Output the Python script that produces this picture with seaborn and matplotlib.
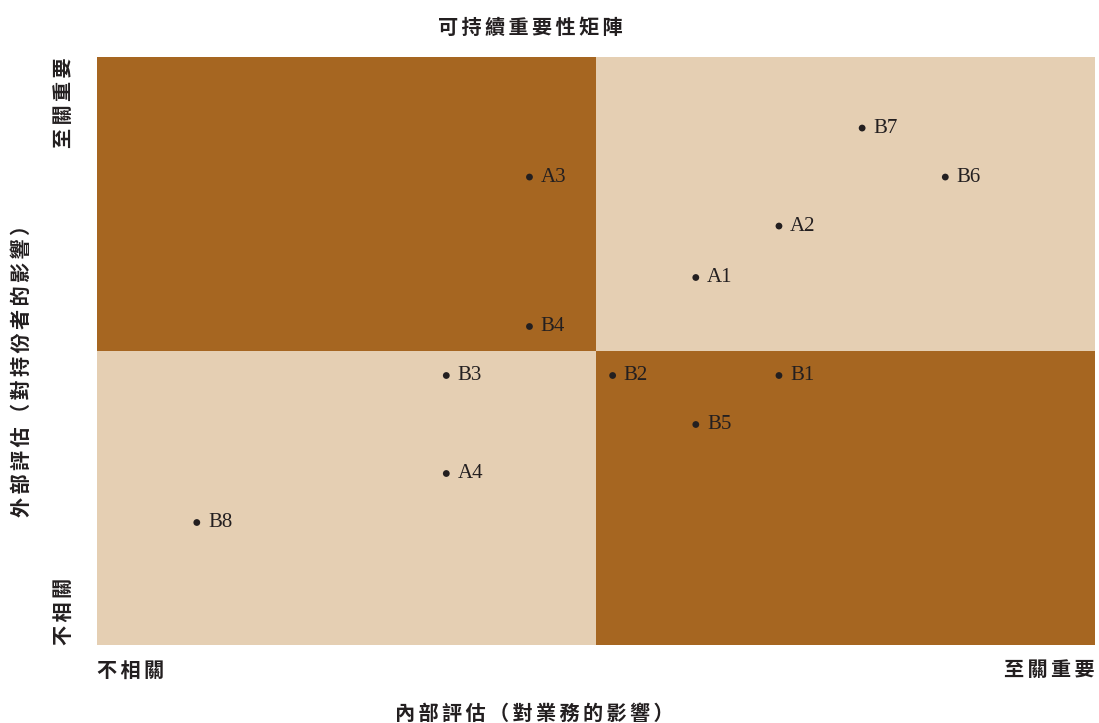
import matplotlib
matplotlib.use("Agg")
import matplotlib.pyplot as plt
from matplotlib.patches import Rectangle
import seaborn as sns
import pandas as pd

# point labels and positions (0-12 scale on both axes)
labels = ["B7", "A3", "B6", "A2", "A1", "B4", "B3", "B2", "B1", "B5", "A4", "B8"]
internal = [9.2, 5.2, 10.2, 8.2, 7.2, 5.2, 4.2, 6.2, 8.2, 7.2, 4.2, 1.2]
external = [10.55, 9.55, 9.55, 8.55, 7.5, 6.5, 5.5, 5.5, 5.5, 4.5, 3.5, 2.5]

title = "可持續重要性矩陣"
x_title = "內部評估（對業務的影響）"
y_title = "外部評估（對持份者的影響）"
low_label = "不相關"
high_label = "至關重要"

axis_max = 12
mid = 6

dark = "#A66621"
light = "#E5CFB3"
ink = "#231F20"


def spaced(s):
    # the reference sets its headings with wide letter spacing
    return "\u2006".join(s)


sns.set_theme(style="white")
plt.rcParams["font.family"] = ["Liberation Serif", "Noto Sans CJK TC", "DejaVu Sans"]

df = pd.DataFrame({"label": labels, "x": internal, "y": external})

fig = plt.figure(figsize=(10.99, 7.23), dpi=100)
ax = fig.add_axes([97 / 1099, 78 / 723, 998 / 1099, 588 / 723])

# quadrants
quads = [(0, 0, light), (mid, mid, light), (0, mid, dark), (mid, 0, dark)]
for qx, qy, c in quads:
    ax.add_patch(Rectangle((qx, qy), mid, mid, facecolor=c, edgecolor="none", zorder=0))

sns.scatterplot(data=df, x="x", y="y", color=ink, s=24, edgecolor="none", ax=ax, zorder=3)
for _, r in df.iterrows():
    ax.annotate(r["label"], (r["x"], r["y"]), xytext=(8, 0), textcoords="offset points",
                va="center", ha="left", fontsize=15, color=ink)

ax.set_xlim(0, axis_max)
ax.set_ylim(0, axis_max)
ax.set_xticks([])
ax.set_yticks([])
ax.set_xlabel("")
ax.set_ylabel("")
for s in ax.spines.values():
    s.set_visible(False)

bold = dict(fontsize=14.5, fontweight="bold", color=ink,
            family=["Noto Sans CJK TC", "DejaVu Sans"])
fig.text(530 / 1099, 1 - 27 / 723, spaced(title), ha="center", va="center", **bold)
fig.text(534 / 1099, 1 - 713 / 723, spaced(x_title), ha="center", va="center", **bold)
fig.text(21 / 1099, 1 - 366 / 723, spaced(y_title), ha="center", va="center", rotation=90, **bold)

ax.text(0, -0.51, spaced(low_label), ha="left", va="center", **bold)
ax.text(axis_max, -0.51, spaced(high_label), ha="right", va="center", **bold)
ax.text(-0.4, axis_max, spaced(high_label), ha="center", va="top", rotation=90, **bold)
ax.text(-0.4, 0, spaced(low_label), ha="center", va="bottom", rotation=90, **bold)

fig.savefig("out.png", dpi=100)
